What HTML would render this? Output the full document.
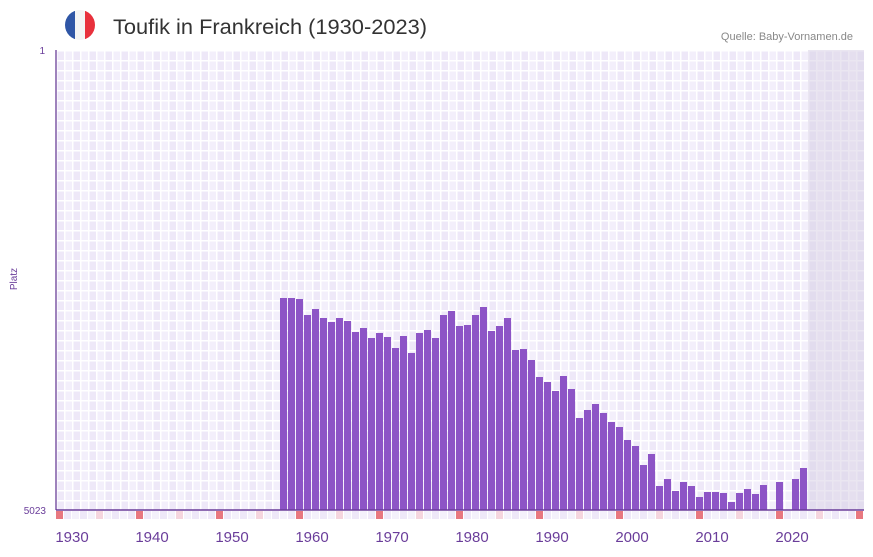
<!DOCTYPE html>
<html><head><meta charset="utf-8"><style>
body{margin:0;background:#fff;font-family:"Liberation Sans",sans-serif}
</style></head><body>
<svg width="873" height="552" xmlns="http://www.w3.org/2000/svg" font-family="Liberation Sans, sans-serif">
<defs>
<pattern id="g" x="56" y="50" width="16" height="10" patternUnits="userSpaceOnUse">
<rect width="8" height="10" fill="#eee8f8"/><rect x="8" width="8" height="10" fill="#f3effb"/>
<rect x="0" y="0" width="16" height="1.5" fill="#fff"/>
<rect x="0" y="0" width="1.5" height="10" fill="#fff"/><rect x="8" y="0" width="1.5" height="10" fill="#fff"/>
</pattern>
<clipPath id="fc"><circle cx="80" cy="25" r="15"/></clipPath>
</defs>
<g clip-path="url(#fc)"><rect x="65" y="10" width="10" height="30" fill="#2f56a6"/><rect x="75" y="10" width="10" height="30" fill="#f4f4f4"/><rect x="85" y="10" width="10" height="30" fill="#e8313c"/></g>
<text x="113" y="34" font-size="21" fill="#333" textLength="314" lengthAdjust="spacingAndGlyphs">Toufik in Frankreich (1930-2023)</text>
<text x="853" y="40" font-size="11" fill="#888" text-anchor="end">Quelle: Baby-Vornamen.de</text>
<rect x="56" y="50" width="808" height="460" fill="url(#g)"/>
<rect x="808" y="50" width="56" height="460" fill="#d8d2e6" opacity="0.55"/>
<g id="bars" fill="#8d55c6"></g>
<g id="marks"></g>
<line x1="56" y1="510" x2="864" y2="510" stroke="#6a3d9a" stroke-width="1.5"/>
<line x1="56" y1="50" x2="56" y2="510" stroke="#5e2f8f" stroke-width="1.2"/>
<text x="45" y="54" font-size="10" fill="#6a3d9a" text-anchor="end">1</text>
<text x="46" y="514" font-size="10" fill="#6a3d9a" text-anchor="end">5023</text>
<text transform="translate(17,279) rotate(-90)" font-size="10" fill="#6a3d9a" text-anchor="middle">Platz</text>
<g font-size="15" fill="#6a3d9a" text-anchor="middle">
<text x="72" y="542">1930</text><text x="152" y="542">1940</text><text x="232" y="542">1950</text><text x="312" y="542">1960</text><text x="392" y="542">1970</text><text x="472" y="542">1980</text><text x="552" y="542">1990</text><text x="632" y="542">2000</text><text x="712" y="542">2010</text><text x="792" y="542">2020</text>
</g>
<script>
var tops={28:298,29:298,30:299,31:315,32:309,33:318,34:322,35:318,36:321,37:332,38:328,39:338,40:333,41:337,42:348,43:336,44:353,45:333,46:330,47:338,48:315,49:311,50:326,51:325,52:315,53:307,54:331,55:326,56:318,57:350,58:349,59:360,60:377,61:382,62:391,63:376,64:389,65:418,66:410,67:404,68:413,69:422,70:427,71:440,72:446,73:465,74:454,75:486,76:479,77:491,78:482,79:486,80:497,81:492,82:492,83:493,84:502,85:493,86:489,87:494,88:485,90:482,92:479,93:468};
var ns="http://www.w3.org/2000/svg",b=document.getElementById("bars"),m=document.getElementById("marks");
for(var k in tops){var r=document.createElementNS(ns,"rect");var x=56+8*k;r.setAttribute("x",x);r.setAttribute("y",tops[k]);r.setAttribute("width",7);r.setAttribute("height",510-tops[k]);b.appendChild(r);}
for(var i=0;i<101;i++){var r=document.createElementNS(ns,"rect");r.setAttribute("x",56+8*i);r.setAttribute("y",511);r.setAttribute("width",7);r.setAttribute("height",8);
var c=i%10==0?"#e87880":(i%10==5?"#f5d5de":(i%2?"#eee8f8":"#f4f1fb"));r.setAttribute("fill",c);m.appendChild(r);}
</script>
</svg>
</body></html>
